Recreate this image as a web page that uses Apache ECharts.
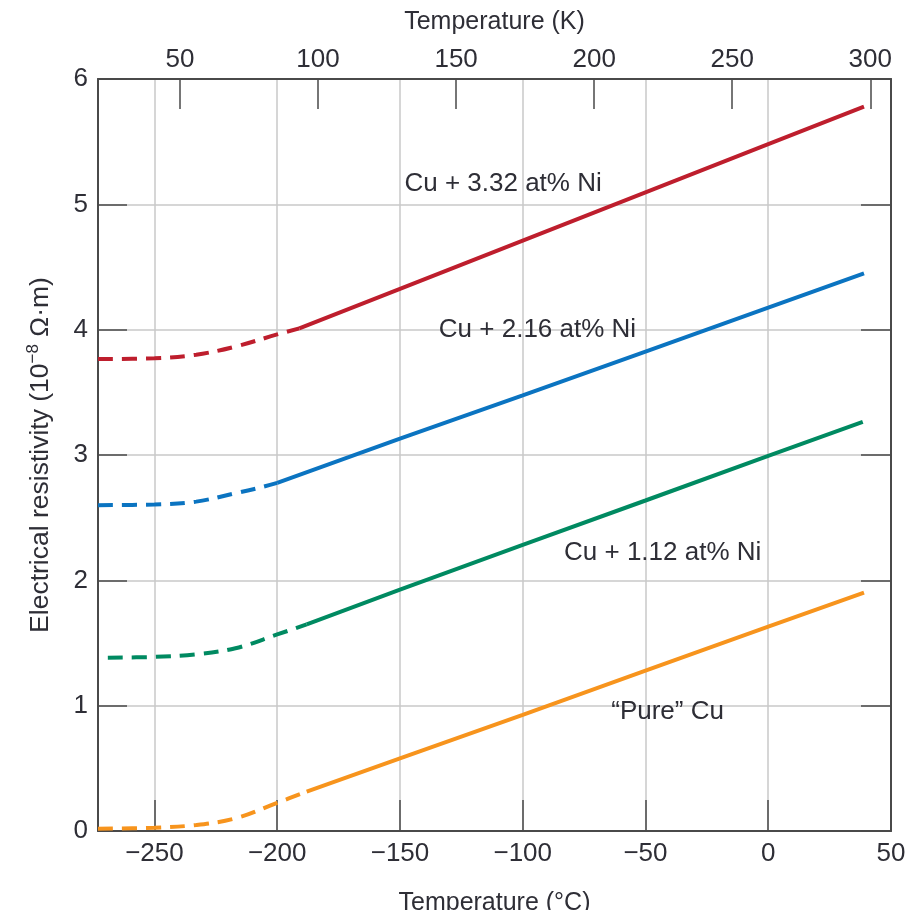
<!DOCTYPE html>
<html>
<head>
<meta charset="utf-8">
<title>Electrical resistivity of Cu-Ni alloys</title>
<script src="https://cdn.jsdelivr.net/npm/echarts@6/dist/echarts.min.js"></script>
<style>
  html, body { margin: 0; padding: 0; background: #fff; }
  #chart { width: 918px; height: 910px; }
</style>
</head>
<body>
<div id="chart"></div>
<script>
// temperatures in degC, resistivity in 1e-8 ohm.m
// low temperature part is drawn dashed, the rest solid
const cu332Dashed = [[-273, 3.765], [-250, 3.772], [-233, 3.80], [-217, 3.865], [-200, 3.962], [-191, 4.01]];
const cu332Solid = [[-191, 4.01], [-150, 4.325], [-100, 4.71], [-50, 5.095], [0, 5.48], [39, 5.78]];

const cu216Dashed = [[-273, 2.60], [-250, 2.605], [-233, 2.628], [-217, 2.695], [-206, 2.745], [-200, 2.777]];
const cu216Solid = [[-200, 2.777], [-150, 3.13], [-100, 3.475], [-50, 3.825], [0, 4.175], [39, 4.45]];

const cu112Dashed = [[-269, 1.383], [-250, 1.389], [-233, 1.41], [-217, 1.458], [-200, 1.568], [-188, 1.648]];
const cu112Solid = [[-188, 1.648], [-150, 1.925], [-100, 2.283], [-50, 2.637], [0, 2.993], [38.5, 3.265]];

const pureDashed = [[-273, 0.018], [-250, 0.026], [-233, 0.048], [-217, 0.101], [-200, 0.225], [-188, 0.314]];
const pureSolid = [[-188, 0.314], [-150, 0.58], [-100, 0.926], [-50, 1.279], [0, 1.63], [39, 1.902]];

// curve captions: [degC, resistivity, text]
const captions = [
  [-108, 5.16, 'Cu + 3.32 at% Ni'],
  [-94, 4.0, 'Cu + 2.16 at% Ni'],
  [-43, 2.22, 'Cu + 1.12 at% Ni'],
  [-41, 0.95, '\u201cPure\u201d Cu']
];

const celsiusTicks = [-250, -200, -150, -100, -50, 0];
const celsiusLabels = [-250, -200, -150, -100, -50, 0, 50];
const kelvinTicks = [50, 100, 150, 200, 250, 300];

const colors = {
  cu332: '#be1e2d',
  cu216: '#0b74c1',
  cu112: '#008a61',
  pure: '#f7941d'
};

const FONT = 'Liberation Sans, Arial, sans-serif';
const TEXT = '#2e2e36';
const AXIS = '#4a4a4a';

const chart = echarts.init(document.getElementById('chart'));

function curve(data, color, dashed) {
  return {
    type: 'line',
    data: data,
    xAxisIndex: 0,
    yAxisIndex: 0,
    showSymbol: false,
    smooth: dashed ? 0.35 : false,
    lineStyle: {
      color: color,
      width: 4,
      type: dashed ? [15, 9] : 'solid',
      cap: 'butt'
    },
    silent: true,
    z: 3
  };
}

const minus = v => String(v).replace('-', '\u2212');
const frame = { show: true, onZero: false, lineStyle: { color: AXIS, width: 2 } };

chart.setOption({
  animation: false,
  textStyle: { fontFamily: FONT },
  grid: { left: 98, right: 27, top: 79, bottom: 79, containLabel: false, outerBoundsMode: 'none' },
  xAxis: [
    {
      type: 'value',
      position: 'bottom',
      min: -273,
      max: 50,
      name: 'Temperature (\u00b0C)',
      nameLocation: 'middle',
      nameGap: 60,
      nameTextStyle: { fontSize: 25, color: TEXT, fontFamily: FONT },
      axisLine: frame,
      axisTick: { show: true, inside: true, length: 31, customValues: celsiusTicks, lineStyle: { color: AXIS, width: 1.5 } },
      axisLabel: { customValues: celsiusLabels, fontSize: 26, color: TEXT, margin: 10, formatter: minus, fontFamily: FONT },
      splitLine: { show: true, lineStyle: { color: '#c8c8c8', width: 1.5 } }
    },
    {
      type: 'value',
      position: 'top',
      min: 20.3,
      max: 307.5,
      name: 'Temperature (K)',
      nameLocation: 'middle',
      nameGap: 44,
      nameTextStyle: { fontSize: 25, color: TEXT, fontFamily: FONT },
      axisLine: frame,
      axisTick: { show: true, inside: true, length: 30, customValues: kelvinTicks, lineStyle: { color: AXIS, width: 1.5 } },
      axisLabel: { customValues: kelvinTicks, fontSize: 26, color: TEXT, margin: 6, fontFamily: FONT },
      splitLine: { show: false }
    }
  ],
  yAxis: [
    {
      type: 'value',
      position: 'left',
      min: 0,
      max: 6,
      interval: 1,
      name: 'Electrical resistivity (10{sup|\u22128} \u03a9\u00b7m)',
      nameLocation: 'middle',
      nameGap: 41,
      nameTextStyle: {
        fontSize: 26.5,
        color: TEXT,
        fontFamily: FONT,
        rich: {
          sup: { fontSize: 17, color: TEXT, fontFamily: FONT, verticalAlign: 'top', lineHeight: 32 }
        }
      },
      axisLine: frame,
      axisTick: { show: true, inside: true, length: 29, lineStyle: { color: AXIS, width: 1.5 } },
      axisLabel: { fontSize: 26, color: TEXT, margin: 10, fontFamily: FONT },
      splitLine: { show: true, lineStyle: { color: '#c8c8c8', width: 1.5 } }
    },
    {
      type: 'value',
      position: 'right',
      min: 0,
      max: 6,
      interval: 1,
      axisLine: frame,
      axisTick: { show: true, inside: true, length: 30, lineStyle: { color: AXIS, width: 1.5 } },
      axisLabel: { show: false },
      splitLine: { show: false }
    }
  ],
  series: [
    curve(cu332Dashed, colors.cu332, true),
    curve(cu332Solid, colors.cu332, false),
    curve(cu216Dashed, colors.cu216, true),
    curve(cu216Solid, colors.cu216, false),
    curve(cu112Dashed, colors.cu112, true),
    curve(cu112Solid, colors.cu112, false),
    curve(pureDashed, colors.pure, true),
    curve(pureSolid, colors.pure, false),
    {
      type: 'scatter',
      xAxisIndex: 0,
      yAxisIndex: 0,
      symbolSize: 0,
      silent: true,
      z: 5,
      itemStyle: { opacity: 1 },
      data: captions.map(c => ({ value: [c[0], c[1]], name: c[2] })),
      label: {
        show: true,
        position: 'inside',
        formatter: p => p.name,
        fontSize: 26,
        color: TEXT,
        opacity: 1,
        textBorderWidth: 0,
        textBorderColor: 'transparent',
        fontFamily: FONT
      }
    }
  ]
});
</script>
</body>
</html>
